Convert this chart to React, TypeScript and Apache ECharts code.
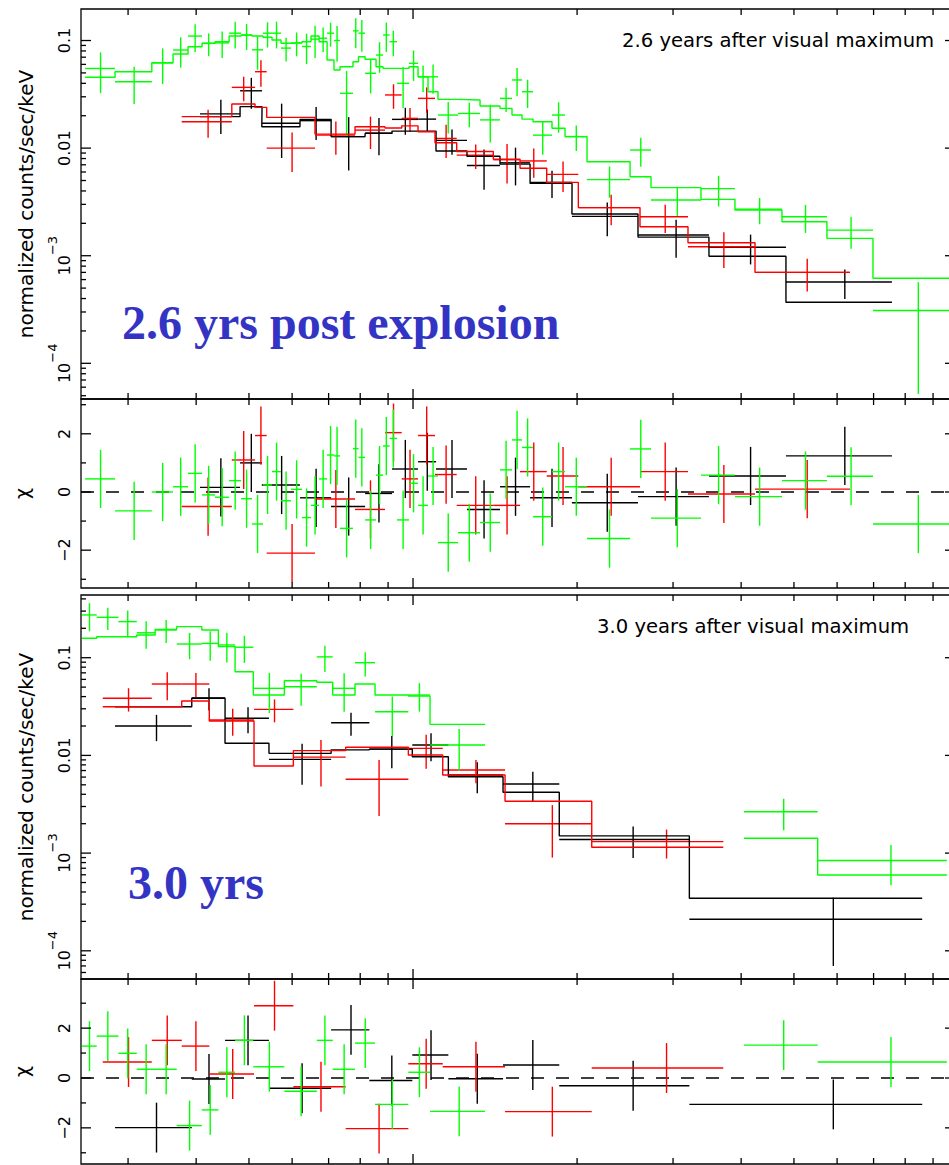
import React, { useEffect, useRef } from "react";
import * as echarts from "echarts";

const FONT = '"DejaVu Sans", Verdana, sans-serif';
const BLACK = "#000000";
const RED = "#ff0000";
const GREEN = "#00ff00";
const NOTE_BLUE = "#3434c4";

// ---------- texts ----------
const A_TITLE = "2.6 years after visual maximum";
const B_TITLE = "3.0 years after visual maximum";
const A_NOTE = "2.6 yrs post explosion";
const B_NOTE = "3.0 yrs";
const Y_TITLE = "normalized counts/sec/keV";
const CHI_TITLE = "χ";

// ---------- axes ----------
const E_RANGE = [0.2459, 9.874]; // keV
const E_MAJOR_TICKS = [1];
const E_MINOR_TICKS = [0.3, 0.4, 0.5, 0.6, 0.7, 0.8, 0.9, 2, 3, 4, 5, 6, 7, 8, 9];
const A_RATE_RANGE = [4.66e-5, 0.1963];
const A_CHI_RANGE = [-3.3, 3.196];
const B_RATE_RANGE = [5.145e-5, 0.4384];
const B_CHI_RANGE = [-3.45, 3.971];
const RATE_DECADES = [1e-5, 1e-4, 1e-3, 1e-2, 1e-1];
const RATE_MANTISSAS = [1, 2, 3, 4, 5, 6, 7, 8, 9];
const RATE_LABELS: Record<string, string> = {
  "-1": "0.1",
  "-2": "0.01",
  "-3": "{b|10}{s|−3}",
  "-4": "{b|10}{s|−4}",
};
const CHI_MAJOR = [-2, 0, 2];
const CHI_MINOR = [-3, -1, 1, 3];
const CHI_ERR = 1;

// ---------- 2.6 yr spectrum : black ----------
const A_BLK_E = [0.444, 0.505, 0.574, 0.664, 0.762, 0.866, 0.968, 1.062, 1.179, 1.35, 1.542, 1.799, 2.272, 3.039, 4.163, 6.199];
const A_BLK_DE = [0.0375, 0.0234, 0.0461, 0.0435, 0.0546, 0.0493, 0.0531, 0.0403, 0.0772, 0.094, 0.0977, 0.159, 0.315, 0.452, 0.671, 1.365];
const A_BLK_Y = [0.0208, 0.0341, 0.017, 0.018, 0.0128, 0.0138, 0.0185, 0.0186, 0.0118, 0.0069, 0.0073, 0.0048, 0.00232, 0.00156, 0.0012, 0.00057];
const A_BLK_DY = [0.0073, 0.0109, 0.0089, 0.0061, 0.0066, 0.0052, 0.0052, 0.0043, 0.0031, 0.0028, 0.0028, 0.00137, 0.0008, 0.0006, 0.00037, 0.000174];
const A_BLK_M = [0.0196, 0.0243, 0.0158, 0.0185, 0.0128, 0.0137, 0.0144, 0.0144, 0.0094, 0.0084, 0.0071, 0.0047, 0.00244, 0.00149, 0.00099, 0.00037];
const A_BLK_CHI = [0.16, 1.0, 0.24, -0.2, -0.5, -0.05, 0.79, 1.04, 0.79, -0.6, 0.18, -0.2, -0.37, -0.16, 0.55, 1.24];

// ---------- 2.6 yr spectrum : red ----------
const A_RED_E = [0.4207, 0.489, 0.5259, 0.5999, 0.7218, 0.8355, 0.9209, 0.9874, 1.0594, 1.15, 1.3033, 1.4878, 1.6655, 1.8849, 2.3099, 2.9024, 3.7186, 5.2885];
const A_RED_DE = [0.0444, 0.024, 0.013, 0.061, 0.0609, 0.0529, 0.0325, 0.034, 0.038, 0.0527, 0.1006, 0.084, 0.0938, 0.1257, 0.2993, 0.2932, 0.5231, 1.0469];
const A_RED_Y = [0.0176, 0.0367, 0.0513, 0.01, 0.0132, 0.0147, 0.0312, 0.0189, 0.029, 0.0123, 0.0086, 0.0078, 0.0076, 0.0057, 0.0028, 0.0023, 0.00121, 0.0007];
const A_RED_DY = [0.0051, 0.0094, 0.0141, 0.004, 0.0045, 0.0049, 0.008, 0.0047, 0.0077, 0.0042, 0.0022, 0.0031, 0.0023, 0.0018, 0.00088, 0.00067, 0.00044, 0.000236];
const A_RED_M = [0.0196, 0.0257, 0.0239, 0.0193, 0.0135, 0.0158, 0.0154, 0.0161, 0.0142, 0.0112, 0.0093, 0.0079, 0.0065, 0.0048, 0.0028, 0.00186, 0.00132, 0.0007];
const A_RED_CHI = [-0.5, 1.1, 1.94, -2.1, -0.24, -0.6, 2.04, 0.45, 1.94, 0.6, -0.46, -0.46, 0.7, 0.55, 0.18, 0.7, -0.07, 0.1];

// ---------- 2.6 yr spectrum : green ----------
const A_GRN_E = [0.2671, 0.3078, 0.3472, 0.3747, 0.3983, 0.4217, 0.4465, 0.4717, 0.495, 0.5185, 0.5409, 0.5618, 0.5849, 0.6115, 0.6377, 0.6611, 0.684, 0.7058, 0.7254, 0.7553, 0.7851, 0.8055, 0.836, 0.8682, 0.8933, 0.9201, 0.959, 1.0023, 1.0434, 1.0884, 1.1604, 1.2684, 1.3858, 1.4817, 1.5521, 1.6228, 1.7298, 1.8498, 1.9933, 2.2939, 2.6176, 3.0547, 3.6365, 4.3253, 5.2505, 6.365, 8.456];
const A_GRN_DE = [0.0169, 0.0239, 0.0156, 0.0119, 0.0118, 0.0116, 0.0133, 0.012, 0.0114, 0.0121, 0.0103, 0.0107, 0.0124, 0.0142, 0.0121, 0.0113, 0.0116, 0.0103, 0.0093, 0.0206, 0.0092, 0.0112, 0.0194, 0.0128, 0.0123, 0.0146, 0.0243, 0.0191, 0.022, 0.023, 0.0491, 0.059, 0.0584, 0.0375, 0.0329, 0.0379, 0.0692, 0.0509, 0.0927, 0.208, 0.1158, 0.3213, 0.2606, 0.4282, 0.4971, 0.6174, 1.474];
const A_GRN_Y = [0.055, 0.0414, 0.062, 0.0816, 0.11, 0.094, 0.095, 0.117, 0.112, 0.082, 0.117, 0.117, 0.085, 0.095, 0.088, 0.103, 0.105, 0.117, 0.1, 0.0323, 0.123, 0.117, 0.0496, 0.0733, 0.1125, 0.0975, 0.04, 0.0614, 0.046, 0.046, 0.0203, 0.021, 0.0183, 0.029, 0.043, 0.0334, 0.0132, 0.0203, 0.0128, 0.0051, 0.0096, 0.0033, 0.0042, 0.0027, 0.0023, 0.00173, 0.00031];
const A_GRN_DY = [0.0226, 0.0157, 0.0225, 0.0256, 0.0319, 0.0224, 0.0262, 0.0326, 0.0303, 0.0285, 0.0308, 0.0326, 0.0213, 0.0237, 0.0277, 0.0342, 0.0269, 0.0293, 0.0365, 0.0197, 0.0381, 0.0382, 0.0174, 0.0232, 0.0342, 0.026, 0.0164, 0.0193, 0.0127, 0.014, 0.0066, 0.0054, 0.007, 0.0073, 0.0126, 0.0098, 0.0045, 0.0064, 0.0034, 0.00165, 0.0029, 0.00096, 0.00133, 0.00074, 0.00067, 0.00057, 0.000258];
const A_GRN_M = [0.0455, 0.0513, 0.0622, 0.0749, 0.0876, 0.0942, 0.0975, 0.1101, 0.1125, 0.1101, 0.1071, 0.1011, 0.0942, 0.0954, 0.0975, 0.1101, 0.0975, 0.0659, 0.0532, 0.0571, 0.0635, 0.0707, 0.0669, 0.0571, 0.0551, 0.0551, 0.0551, 0.0571, 0.0461, 0.0334, 0.0284, 0.028, 0.0246, 0.0234, 0.0203, 0.0186, 0.0176, 0.0153, 0.0128, 0.00747, 0.00542, 0.00429, 0.00334, 0.00266, 0.00207, 0.00145, 0.000617];
const A_GRN_CHI = [0.45, -0.65, 0.0, 0.18, 0.64, -0.1, -0.18, 0.39, -0.23, -1.1, 0.24, 0.7, -0.3, 0.09, -0.88, -0.46, 0.45, 1.27, 1.24, -1.25, 1.49, 1.19, -0.96, 0.58, 1.58, 1.84, -0.96, 0.3, -0.46, 0.55, -1.74, -1.4, -1.05, 0.76, 1.79, 1.53, -0.85, 0.7, 0.18, -1.6, 1.48, -0.9, 0.58, -0.16, 0.39, 0.54, -1.1];

// ---------- 3.0 yr spectrum : black ----------
const B_BLK_E = [0.3383, 0.4223, 0.498, 0.6258, 0.7695, 0.9143, 1.079, 1.3119, 1.6589, 2.5345, 5.905];
const B_BLK_DE = [0.0544, 0.0297, 0.0461, 0.0817, 0.0621, 0.0828, 0.082, 0.1509, 0.1962, 0.6795, 2.691];
const B_BLK_Y = [0.02, 0.0387, 0.024, 0.0091, 0.0216, 0.0116, 0.0128, 0.0063, 0.0051, 0.00138, 0.00021];
const B_BLK_DY = [0.006, 0.0099, 0.0071, 0.0041, 0.0057, 0.0042, 0.0041, 0.0022, 0.0017, 0.00049, 0.00014];
const B_BLK_M = [0.0315, 0.0384, 0.0133, 0.0105, 0.0114, 0.0116, 0.0097, 0.00605, 0.00419, 0.0015, 0.000345];
const B_BLK_CHI = [-1.99, -0.04, 1.51, -0.41, 1.93, -0.1, 0.92, -0.03, 0.52, -0.31, -1.06];

// ---------- 3.0 yr spectrum : red ----------
const B_RED_E = [0.3006, 0.354, 0.3996, 0.4668, 0.557, 0.6778, 0.8664, 1.0571, 1.3045, 1.8015, 2.9188];
const B_RED_DE = [0.031, 0.0224, 0.0233, 0.044, 0.0462, 0.0746, 0.1141, 0.0767, 0.1708, 0.3263, 0.791];
const B_RED_Y = [0.0384, 0.0538, 0.0538, 0.023, 0.0296, 0.0096, 0.0057, 0.0118, 0.0071, 0.002, 0.00131];
const B_RED_DY = [0.0103, 0.0172, 0.016, 0.0071, 0.0078, 0.0048, 0.0033, 0.0045, 0.0019, 0.0011, 0.00043];
const B_RED_M = [0.0315, 0.0315, 0.036, 0.0225, 0.0078, 0.0112, 0.0121, 0.0101, 0.0063, 0.0034, 0.00115];
const B_RED_CHI = [0.64, 1.51, 1.28, 0.16, 2.9, -0.35, -2.03, 0.57, 0.45, -1.35, 0.4];

// ---------- 3.0 yr spectrum : green ----------
const B_GRN_E = [0.2549, 0.2754, 0.2996, 0.3238, 0.3524, 0.3891, 0.4245, 0.4554, 0.4904, 0.545, 0.6233, 0.6891, 0.7475, 0.8172, 0.9161, 1.0275, 1.2152, 4.7884, 7.534];
const B_GRN_DE = [0.0079, 0.0126, 0.0117, 0.0126, 0.0161, 0.0206, 0.0149, 0.0161, 0.0189, 0.0357, 0.0427, 0.0232, 0.0352, 0.0346, 0.0644, 0.0471, 0.1407, 0.7397, 2.006];
const B_GRN_Y = [0.274, 0.259, 0.234, 0.18, 0.192, 0.138, 0.14, 0.135, 0.128, 0.0486, 0.0505, 0.102, 0.0486, 0.0889, 0.028, 0.0415, 0.0128, 0.00265, 0.00084];
const B_GRN_DY = [0.0879, 0.0664, 0.0694, 0.0568, 0.0507, 0.0415, 0.0468, 0.0455, 0.0396, 0.0214, 0.0182, 0.0307, 0.0206, 0.0248, 0.0122, 0.0134, 0.0058, 0.00094, 0.00037];
const B_GRN_M = [0.158, 0.164, 0.164, 0.171, 0.195, 0.208, 0.192, 0.13, 0.0719, 0.0415, 0.0582, 0.056, 0.0415, 0.0538, 0.0415, 0.0406, 0.0208, 0.00142, 0.000597];
const B_GRN_CHI = [1.28, 1.68, 0.99, 0.35, 0.35, -1.91, -1.28, 0.23, 1.51, 0.45, -0.53, 1.51, 0.35, 1.4, -1.06, 0.23, -1.34, 1.32, 0.64];

// ---------- layout ----------
const GRID_LEFT = 81;
const GRID_WIDTH = 874;
const GRIDS = [
  { top: 9, height: 390 },
  { top: 399, height: 189 },
  { top: 595, height: 384 },
  { top: 979, height: 185 },
];

function stepData(E: number[], DE: number[], M: number[]) {
  const out: any[] = [];
  for (let i = 0; i < E.length; i++) {
    const lo = E[i] - DE[i];
    const hi = E[i] + DE[i];
    if (i > 0) {
      const prevHi = E[i - 1] + DE[i - 1];
      if (lo - prevHi > 0.02 * prevHi) out.push(["-", "-"]);
    }
    out.push([lo, M[i]]);
    out.push([hi, M[i]]);
  }
  return out;
}

function modelSeries(E: number[], DE: number[], M: number[], color: string, g: number) {
  return {
    type: "line",
    xAxisIndex: g,
    yAxisIndex: g,
    data: stepData(E, DE, M),
    symbol: "none",
    showSymbol: false,
    connectNulls: false,
    lineStyle: { color, width: 1.4 },
    itemStyle: { color },
    silent: true,
    clip: true,
    z: 2,
  };
}

function crossSeries(E: number[], DE: number[], Y: number[], DY: number[] | number, color: string, g: number, isLog: boolean) {
  return {
    type: "custom",
    coordinateSystem: "cartesian2d",
    xAxisIndex: g,
    yAxisIndex: g,
    data: E.map((e, i) => [e, Y[i], DE[i], Array.isArray(DY) ? DY[i] : DY]),
    encode: { x: 0, y: 1 },
    silent: true,
    clip: true,
    z: 2,
    renderItem: (params: any, api: any) => {
      const cs = params.coordSys;
      const e = api.value(0);
      const y = api.value(1);
      const de = api.value(2);
      const dy = api.value(3);
      let yLo = y - dy;
      if (isLog && yLo <= 0) yLo = y * 1e-4;
      const c = api.coord([e, y]);
      const l = api.coord([e - de, y]);
      const r = api.coord([e + de, y]);
      const t = api.coord([e, y + dy]);
      const b = api.coord([e, yLo]);
      const cx = (v: number) => Math.max(cs.x, Math.min(cs.x + cs.width, v));
      const cy = (v: number) => Math.max(cs.y, Math.min(cs.y + cs.height, v));
      const st = { stroke: color, lineWidth: 1.4, fill: null };
      return {
        type: "group",
        children: [
          { type: "line", shape: { x1: cx(l[0]), y1: c[1], x2: cx(r[0]), y2: c[1] }, style: st },
          { type: "line", shape: { x1: c[0], y1: cy(t[1]), x2: c[0], y2: cy(b[1]) }, style: st },
        ],
      };
    },
  };
}

function rateTicks(range: number[]) {
  const major: number[] = [];
  const minor: number[] = [];
  RATE_DECADES.forEach((d) =>
    RATE_MANTISSAS.forEach((m) => {
      const v = m * d;
      if (v > range[0] * 1.0001 && v < range[1] * 0.9999) (m === 1 ? major : minor).push(v);
    })
  );
  return { major, minor };
}

function tickSeries(g: number, yMajor: number[], yMinor: number[], yMid: number) {
  const data: number[][] = [];
  E_MAJOR_TICKS.forEach((v) => data.push([v, yMid, 0]));
  E_MINOR_TICKS.forEach((v) => data.push([v, yMid, 1]));
  yMajor.forEach((v) => data.push([1, v, 2]));
  yMinor.forEach((v) => data.push([1, v, 3]));
  return {
    type: "custom",
    coordinateSystem: "cartesian2d",
    xAxisIndex: g,
    yAxisIndex: g,
    data,
    encode: { x: 0, y: 1 },
    silent: true,
    z: 5,
    renderItem: (params: any, api: any) => {
      const cs = params.coordSys;
      const kind = api.value(2);
      const p = api.coord([api.value(0), api.value(1)]);
      const st = { stroke: "#000", lineWidth: 1.3 };
      if (kind < 2) {
        const len = kind === 0 ? 10 : 6;
        return {
          type: "group",
          children: [
            { type: "line", shape: { x1: p[0], y1: cs.y, x2: p[0], y2: cs.y + len }, style: st },
            { type: "line", shape: { x1: p[0], y1: cs.y + cs.height, x2: p[0], y2: cs.y + cs.height - len }, style: st },
          ],
        };
      }
      const len = kind === 2 ? 10 : 5;
      return {
        type: "group",
        children: [
          { type: "line", shape: { x1: cs.x, y1: p[1], x2: cs.x + len, y2: p[1] }, style: st },
          { type: "line", shape: { x1: cs.x + cs.width, y1: p[1], x2: cs.x + cs.width - len, y2: p[1] }, style: st },
        ],
      };
    },
  };
}

function zeroLine(g: number) {
  return {
    type: "line",
    xAxisIndex: g,
    yAxisIndex: g,
    data: [
      [E_RANGE[0], 0],
      [E_RANGE[1], 0],
    ],
    symbol: "none",
    showSymbol: false,
    lineStyle: { color: "#000", width: 1.3, type: [13, 12] },
    silent: true,
    z: 1,
  };
}

function rateAxis(g: number, range: number[]) {
  return {
    type: "log",
    logBase: 10,
    gridIndex: g,
    min: range[0],
    max: range[1],
    axisLine: { show: false },
    axisTick: { show: false },
    minorTick: { show: false },
    splitLine: { show: false },
    axisLabel: {
      rotate: 90,
      margin: 9,
      color: "#000",
      fontFamily: FONT,
      fontSize: 16,
      formatter: (v: number) => {
        const p = Math.log10(v);
        const r = Math.round(p);
        if (Math.abs(p - r) > 1e-6) return "";
        return RATE_LABELS[String(r)] || "";
      },
      rich: {
        b: { fontFamily: FONT, fontSize: 16, color: "#000", verticalAlign: "bottom" },
        s: { fontFamily: FONT, fontSize: 13, color: "#000", verticalAlign: "bottom", padding: [0, 0, 13, 0] },
      },
    },
    name: Y_TITLE,
    nameLocation: "middle",
    nameRotate: 90,
    nameGap: 45,
    nameTextStyle: { color: "#000", fontFamily: FONT, fontSize: 20 },
  };
}

function chiAxis(g: number, range: number[]) {
  return {
    type: "value",
    gridIndex: g,
    min: range[0],
    max: range[1],
    splitNumber: 6,
    axisLine: { show: false },
    axisTick: { show: false },
    splitLine: { show: false },
    axisLabel: {
      rotate: 90,
      margin: 9,
      color: "#000",
      fontFamily: FONT,
      fontSize: 16,
      formatter: (v: number) => {
        const r = Math.round(v);
        if (Math.abs(v - r) > 1e-9 || CHI_MAJOR.indexOf(r) < 0) return "";
        return r < 0 ? "−" + -r : String(r);
      },
    },
    name: CHI_TITLE,
    nameLocation: "middle",
    nameRotate: 90,
    nameGap: 50,
    nameTextStyle: { color: "#000", fontFamily: FONT, fontSize: 19 },
  };
}

export default function App() {
  const ref = useRef<HTMLDivElement>(null);
  useEffect(() => {
    document.body.style.margin = "0";
    document.body.style.overflow = "hidden";
    if (!ref.current) return;
    const chart = echarts.init(ref.current, null, { renderer: "svg" });
    const aT = rateTicks(A_RATE_RANGE);
    const bT = rateTicks(B_RATE_RANGE);

    const option: any = {
      animation: false,
      backgroundColor: "#ffffff",
      grid: GRIDS.map((g) => ({
        left: GRID_LEFT,
        top: g.top,
        width: GRID_WIDTH,
        height: g.height,
        show: true,
        borderColor: "#000",
        borderWidth: 1.3,
        backgroundColor: "transparent",
        containLabel: false,
        outerBoundsMode: "none",
      })),
      xAxis: GRIDS.map((_, i) => ({
        type: "log",
        logBase: 10,
        gridIndex: i,
        min: E_RANGE[0],
        max: E_RANGE[1],
        axisLine: { show: false },
        axisTick: { show: false },
        minorTick: { show: false },
        axisLabel: { show: false },
        splitLine: { show: false },
      })),
      yAxis: [rateAxis(0, A_RATE_RANGE), chiAxis(1, A_CHI_RANGE), rateAxis(2, B_RATE_RANGE), chiAxis(3, B_CHI_RANGE)],
      series: [
        // 2.6 yr spectrum
        modelSeries(A_BLK_E, A_BLK_DE, A_BLK_M, BLACK, 0),
        crossSeries(A_BLK_E, A_BLK_DE, A_BLK_Y, A_BLK_DY, BLACK, 0, true),
        modelSeries(A_RED_E, A_RED_DE, A_RED_M, RED, 0),
        crossSeries(A_RED_E, A_RED_DE, A_RED_Y, A_RED_DY, RED, 0, true),
        modelSeries(A_GRN_E, A_GRN_DE, A_GRN_M, GREEN, 0),
        crossSeries(A_GRN_E, A_GRN_DE, A_GRN_Y, A_GRN_DY, GREEN, 0, true),
        tickSeries(0, aT.major, aT.minor, 0.01),
        // 2.6 yr residuals
        zeroLine(1),
        crossSeries(A_BLK_E, A_BLK_DE, A_BLK_CHI, CHI_ERR, BLACK, 1, false),
        crossSeries(A_RED_E, A_RED_DE, A_RED_CHI, CHI_ERR, RED, 1, false),
        crossSeries(A_GRN_E, A_GRN_DE, A_GRN_CHI, CHI_ERR, GREEN, 1, false),
        tickSeries(1, CHI_MAJOR, CHI_MINOR, 0),
        // 3.0 yr spectrum
        modelSeries(B_BLK_E, B_BLK_DE, B_BLK_M, BLACK, 2),
        crossSeries(B_BLK_E, B_BLK_DE, B_BLK_Y, B_BLK_DY, BLACK, 2, true),
        modelSeries(B_RED_E, B_RED_DE, B_RED_M, RED, 2),
        crossSeries(B_RED_E, B_RED_DE, B_RED_Y, B_RED_DY, RED, 2, true),
        modelSeries(B_GRN_E, B_GRN_DE, B_GRN_M, GREEN, 2),
        crossSeries(B_GRN_E, B_GRN_DE, B_GRN_Y, B_GRN_DY, GREEN, 2, true),
        tickSeries(2, bT.major, bT.minor, 0.01),
        // 3.0 yr residuals
        zeroLine(3),
        crossSeries(B_BLK_E, B_BLK_DE, B_BLK_CHI, CHI_ERR, BLACK, 3, false),
        crossSeries(B_RED_E, B_RED_DE, B_RED_CHI, CHI_ERR, RED, 3, false),
        crossSeries(B_GRN_E, B_GRN_DE, B_GRN_CHI, CHI_ERR, GREEN, 3, false),
        tickSeries(3, CHI_MAJOR, CHI_MINOR, 0),
      ],
      graphic: [
        {
          type: "text",
          x: 622,
          y: 40,
          z: 10,
          style: { text: A_TITLE, fill: "#000", font: `19.6px ${FONT}`, verticalAlign: "middle", textVerticalAlign: "middle" },
        },
        {
          type: "text",
          x: 597,
          y: 626,
          z: 10,
          style: { text: B_TITLE, fill: "#000", font: `19.6px ${FONT}`, verticalAlign: "middle", textVerticalAlign: "middle" },
        },
        {
          type: "text",
          x: 122,
          y: 322,
          z: 10,
          style: {
            text: A_NOTE,
            fill: NOTE_BLUE,
            font: 'bold 48px "Liberation Serif", "Times New Roman", serif',
            verticalAlign: "middle",
            textVerticalAlign: "middle",
          },
        },
        {
          type: "text",
          x: 128,
          y: 882,
          z: 10,
          style: {
            text: B_NOTE,
            fill: NOTE_BLUE,
            font: 'bold 48px "Liberation Serif", "Times New Roman", serif',
            verticalAlign: "middle",
            textVerticalAlign: "middle",
          },
        },
      ],
    };
    chart.setOption(option);
    return () => chart.dispose();
  }, []);
  return <div ref={ref} style={{ width: 949, height: 1165 }} />;
}
